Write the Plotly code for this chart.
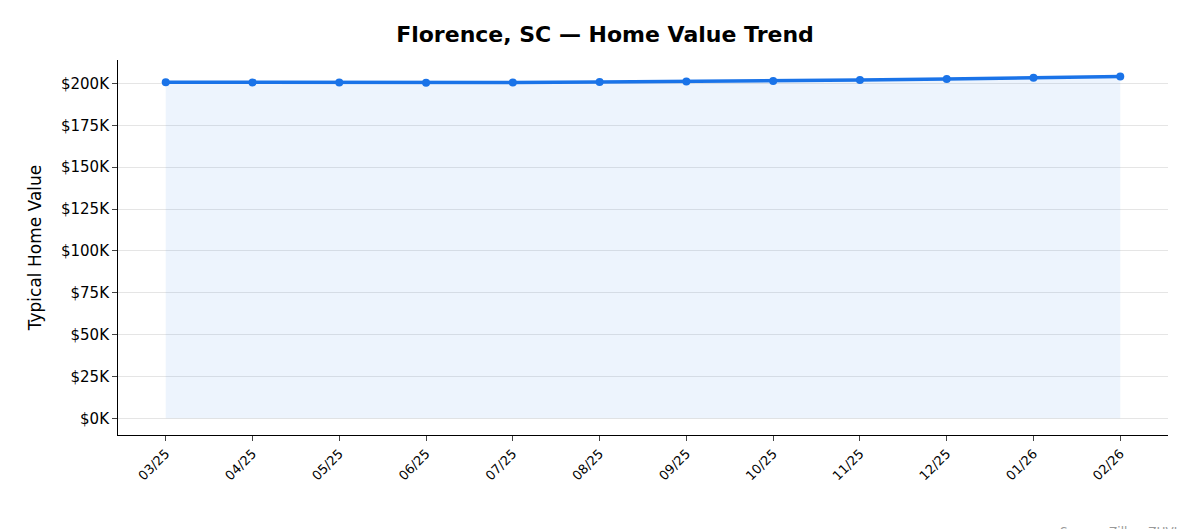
import plotly.graph_objects as go

months = ["03/25", "04/25", "05/25", "06/25", "07/25", "08/25",
          "09/25", "10/25", "11/25", "12/25", "01/26", "02/26"]
values = [200700, 200600, 200500, 200400, 200500, 200800,
          201100, 201500, 202000, 202700, 203400, 204200]
tick_vals = [0, 25000, 50000, 75000, 100000, 125000, 150000, 175000, 200000]
tick_text = ["$0K", "$25K", "$50K", "$75K", "$100K", "$125K", "$150K", "$175K", "$200K"]

fig = go.Figure()
fig.add_trace(go.Scatter(
    x=months, y=values, mode="lines+markers",
    line=dict(color="#1a73e8", width=3.5),
    marker=dict(size=8, color="#1a73e8"),
    fill="tozeroy", fillcolor="rgba(26,115,232,0.08)",
))

fig.update_layout(
    width=1194, height=529,
    margin=dict(l=110, r=34, t=52, b=102),
    plot_bgcolor="white", paper_bgcolor="white",
    font=dict(family="DejaVu Sans", size=15, color="black"),
    title=dict(text="<b>Florence, SC — Home Value Trend</b>", x=0.5, xanchor="center",
               y=0.965, font=dict(size=22)),
    showlegend=False,
    xaxis=dict(tickangle=-45, showline=True, linecolor="black", ticks="outside",
               tickfont=dict(size=13), showgrid=False, range=[-0.55, 11.55]),
    yaxis=dict(title=dict(text="Typical Home Value", font=dict(size=17)),
               tickvals=tick_vals, ticktext=tick_text, range=[-10000, 214000],
               showline=True, linecolor="black", ticks="outside",
               gridcolor="rgba(0,0,0,0.1)", zeroline=False, tickfont=dict(size=15)),
)
fig.add_annotation(text="Source: Zillow ZHVI", xref="paper", yref="paper",
                   x=1.01, y=-0.235, xanchor="right", yanchor="top", showarrow=False,
                   font=dict(size=12, color="#999999"))

fig.write_html("out.html")
